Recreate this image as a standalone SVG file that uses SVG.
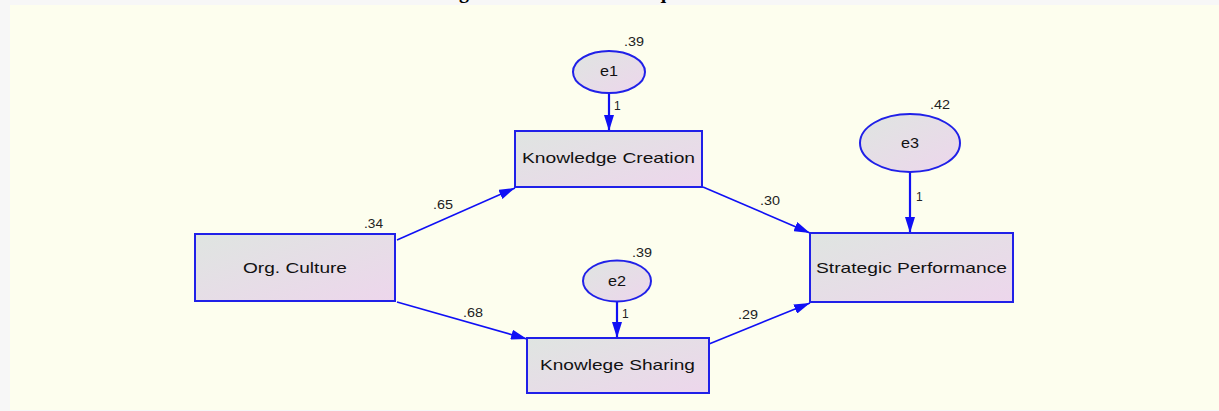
<svg xmlns="http://www.w3.org/2000/svg" width="1219" height="411" viewBox="0 0 1219 411">
<defs>
<linearGradient id="g" x1="0" y1="0" x2="1" y2="1">
<stop offset="0" stop-color="#DFE5E1"/>
<stop offset="1" stop-color="#EDD6EC"/>
</linearGradient>
<marker id="ah" viewBox="0 0 16 10" refX="16" refY="5" markerWidth="16" markerHeight="10" markerUnits="userSpaceOnUse" orient="auto">
<path d="M0,0 L16,5 L0,10 Z" fill="#1010F5"/>
</marker>
<style>
.box{fill:url(#g);stroke:#2020E8;stroke-width:2}
.lbl{font-family:"Liberation Sans",Arial,sans-serif;font-size:15px;fill:#111}
.num{font-family:"Liberation Sans",Arial,sans-serif;font-size:12px;fill:#222}
.ln{stroke:#1010F5;stroke-width:1.6;fill:none;marker-end:url(#ah)}
.ln2{stroke:#1010F5;stroke-width:2.2;fill:none;marker-end:url(#ah)}
</style>
</defs>
<rect width="1219" height="411" fill="#F7F7F7"/>
<rect x="10" y="5" width="1209" height="405" fill="#FDFEEE"/>
<text x="439" y="-2" font-family="Liberation Serif,serif" font-weight="bold" font-size="20" textLength="355" lengthAdjust="spacing" fill="#000">Figure 3: Structural Equation Model</text>
<g id="connectors">
<line class="ln" x1="397" y1="240" x2="515" y2="188"/>
<line class="ln" x1="397" y1="302" x2="527" y2="339"/>
<line class="ln" x1="703" y1="187" x2="810" y2="233"/>
<line class="ln" x1="709" y1="344" x2="810" y2="303"/>
<line class="ln2" x1="609" y1="93" x2="609" y2="131"/>
<line class="ln2" x1="617" y1="302" x2="617" y2="338"/>
<line class="ln2" x1="910" y1="172" x2="910" y2="233"/>
<text class="num" x="433" y="209" textLength="20" lengthAdjust="spacingAndGlyphs">.65</text>
<text class="num" x="463" y="317" textLength="20" lengthAdjust="spacingAndGlyphs">.68</text>
<text class="num" x="760" y="205" textLength="20" lengthAdjust="spacingAndGlyphs">.30</text>
<text class="num" x="738" y="319" textLength="20" lengthAdjust="spacingAndGlyphs">.29</text>
<text class="num" x="614" y="110">1</text>
<text class="num" x="622" y="318">1</text>
<text class="num" x="916" y="201">1</text>
</g>
<g id="org-culture">
<rect class="box" x="195" y="234" width="200" height="67"/>
<text class="lbl" x="243" y="273" textLength="104" lengthAdjust="spacingAndGlyphs">Org. Culture</text>
<text class="num" x="364" y="228" textLength="19" lengthAdjust="spacingAndGlyphs">.34</text>
</g>
<g id="knowledge-creation">
<rect class="box" x="515" y="131" width="187" height="56"/>
<text class="lbl" x="522" y="163" textLength="173" lengthAdjust="spacingAndGlyphs">Knowledge Creation</text>
</g>
<g id="knowlege-sharing">
<rect class="box" x="527" y="338" width="182" height="55"/>
<text class="lbl" x="540" y="370" textLength="155" lengthAdjust="spacingAndGlyphs">Knowlege Sharing</text>
</g>
<g id="strategic-performance">
<rect class="box" x="810" y="233" width="203" height="69"/>
<text class="lbl" x="816" y="273" textLength="191" lengthAdjust="spacingAndGlyphs">Strategic Performance</text>
</g>
<g id="e1">
<ellipse class="box" cx="609" cy="72" rx="36" ry="21"/>
<text class="lbl" x="600" y="76" textLength="18" lengthAdjust="spacingAndGlyphs">e1</text>
<text class="num" x="624" y="46" textLength="20" lengthAdjust="spacingAndGlyphs">.39</text>
</g>
<g id="e2">
<ellipse class="box" cx="617" cy="281" rx="34" ry="20.5"/>
<text class="lbl" x="608" y="286" textLength="18" lengthAdjust="spacingAndGlyphs">e2</text>
<text class="num" x="632" y="257" textLength="20" lengthAdjust="spacingAndGlyphs">.39</text>
</g>
<g id="e3">
<ellipse class="box" cx="910" cy="143" rx="50" ry="29"/>
<text class="lbl" x="901" y="148" textLength="18" lengthAdjust="spacingAndGlyphs">e3</text>
<text class="num" x="930" y="109" textLength="20" lengthAdjust="spacingAndGlyphs">.42</text>
</g>
</svg>
